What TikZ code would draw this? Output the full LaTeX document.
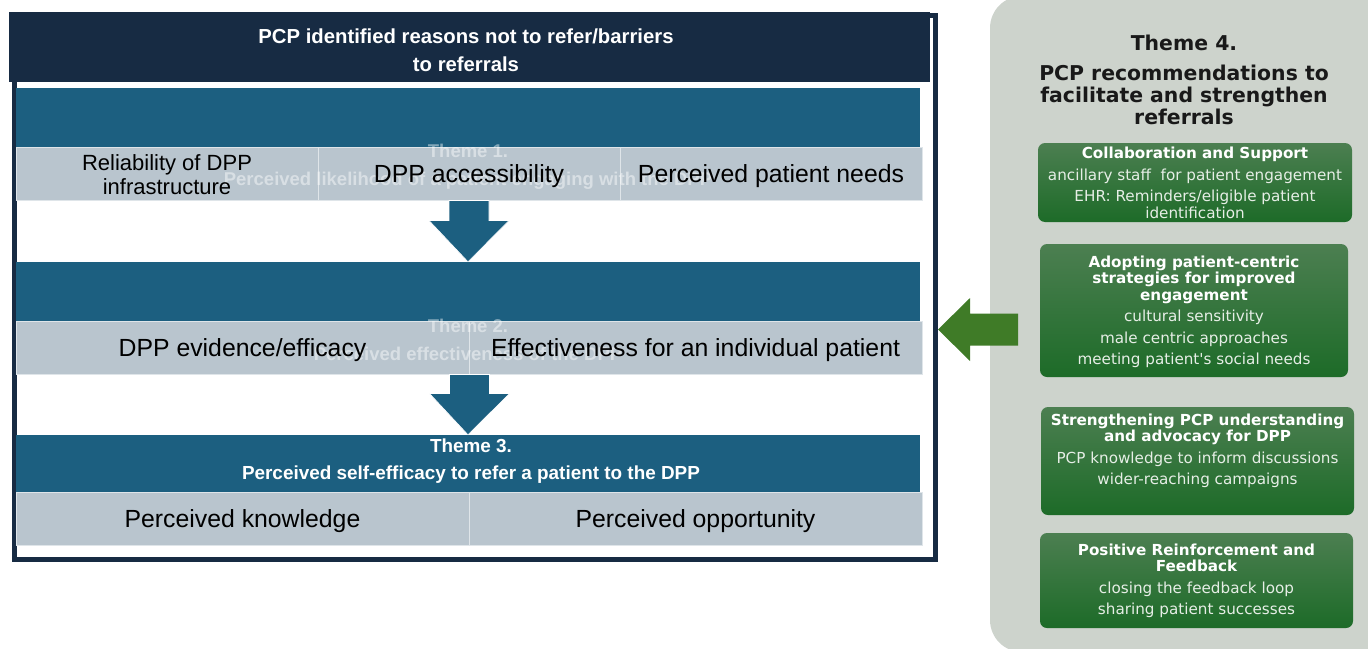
\documentclass[tikz,border=0pt]{standalone}
\usepackage{fontspec}
\setmainfont{Liberation Sans}
\newfontfamily\dejavu{DejaVu Sans}
\usetikzlibrary{positioning,calc}

\definecolor{navyframe}{HTML}{172B43}
\definecolor{themeteal}{HTML}{1C5F80}
\definecolor{cellgrey}{HTML}{B9C5CE}
\definecolor{panelgrey}{HTML}{CDD3CC}
\definecolor{arrowgreen}{HTML}{3F7B27}
\definecolor{boxtop}{HTML}{4C7F51}
\definecolor{boxbot}{HTML}{1D6B28}
\definecolor{boxtext}{HTML}{E6EEE6}

\begin{document}
\begin{tikzpicture}[x=1pt, y=-1pt,
  band/.style={fill=themeteal, inner sep=0pt, minimum width=904, minimum height=59},
  cell/.style={fill=cellgrey, draw=white!55!cellgrey, line width=1pt, inner sep=0pt, minimum height=53},
  celltxt/.style={font=\fontsize{24.8}{28}\selectfont, text=black, yshift=-2.5pt},
  ghost/.style={font=\bfseries\fontsize{18.5}{28}\selectfont, text=white, text opacity=0.45, align=center},
  blockarrow/.style={fill=themeteal, draw=white, line width=0.6pt},
  gbox/.style={rounded corners=7pt, top color=boxtop, bottom color=boxbot, inner sep=0pt},
  gtxt/.style={font=\dejavu\fontsize{15.2}{21.5}\selectfont, text=boxtext, align=center}
]
\useasboundingbox (0,0) rectangle (1368,648);

% outer frame and heading bar
\node[draw=navyframe, line width=5pt, fill=white, minimum width=920.5, minimum height=544, inner sep=0pt] (frame) at (474.75,287) {};
\node[fill=navyframe, minimum width=921, minimum height=70, inner sep=0pt] (head) at (469.5,47) {};
\node[font=\bfseries\fontsize{20.3}{28}\selectfont, text=white, align=center] (headtxt) at (466,50) {PCP identified reasons not to refer/barriers\\to referrals};

% theme 1
\node[band, minimum height=59] (band1) at (468,117.5) {};
\node[cell, minimum width=302] (c11) at (167,173.5) {};
\node[cell, minimum width=302] (c12) at (469,173.5) {};
\node[cell, minimum width=302] (c13) at (771,173.5) {};
\node[ghost] (t1) at (468,167) {Theme 1.\\Perceived likelihood of a patient engaging with the DPP};
\node[font=\fontsize{22}{24}\selectfont, align=center, yshift=-1pt] at (c11) {Reliability of DPP\\infrastructure};
\node[celltxt] at (c12) {DPP accessibility};
\node[celltxt] at (c13) {Perceived patient needs};

% theme 2
\node[band, minimum height=59] (band2) at (468,291.5) {};
\node[cell, minimum width=453] (c21) at (242.5,347.5) {};
\node[cell, minimum width=453] (c22) at (695.5,347.5) {};
\node[ghost] (t2) at (468,340) {Theme 2.\\Perceived effectiveness of the DPP};
\node[celltxt] at (c21) {DPP evidence/efficacy};
\node[celltxt] at (c22) {Effectiveness for an individual patient};

% theme 3
\node[band, minimum height=57] (band3) at (468,463.5) {};
\node[font=\bfseries\fontsize{18.9}{27}\selectfont, text=white, align=center] (t3) at (471,461.5) {Theme 3.\\Perceived self-efficacy to refer a patient to the DPP};
\node[cell, minimum width=453] (c31) at (242.5,518.5) {};
\node[cell, minimum width=453] (c32) at (695.5,518.5) {};
\node[celltxt] at (c31) {Perceived knowledge};
\node[celltxt] at (c32) {Perceived opportunity};

% arrows between themes
\fill[blockarrow] ($(c12.south)+(-20,0)$) -- ($(c12.south)+(20,0)$) -- ($(c12.south)+(20,20)$) -- ($(c12.south)+(40,20)$)
  -- (band2.north) -- ($(c12.south)+(-40,20)$) -- ($(c12.south)+(-20,20)$) -- cycle;
\fill[blockarrow] ($(c21.south east)+(-20,0)$) -- ($(c21.south east)+(20,0)$) -- ($(c21.south east)+(20,19)$) -- ($(c21.south east)+(40,19)$)
  -- (band3.north) -- ($(c21.south east)+(-40,19)$) -- ($(c21.south east)+(-20,19)$) -- cycle;

% theme 4 panel
\begin{scope}
\clip (0,0) rectangle (1368,648);
\fill[panelgrey, rounded corners=32pt] (990,-4) rectangle (1420,652);
\end{scope}
\node[font=\dejavu\bfseries\fontsize{20.4}{22}\selectfont, align=center, text=black!90] (t4) at (1184,80)
  {Theme 4.\\[8pt]PCP recommendations to\\facilitate and strengthen\\referrals};

\node[gbox, minimum width=314, minimum height=79] (gbox1) at (1195,182.5) {};
\node[gtxt] at (1195,183) {\textbf{\color{white}Collaboration and Support}\\ancillary staff\ \ for patient engagement\\EHR: Reminders/eligible patient\\[-5pt]identification};

\node[gbox, minimum width=308, minimum height=133] (gbox2) at (1194,310.5) {};
\node[gtxt] at (1194,312) {\textbf{\color{white}Adopting patient-centric}\\[-5pt]\textbf{\color{white}strategies for improved}\\[-5pt]\textbf{\color{white}engagement}\\cultural sensitivity\\male centric approaches\\meeting patient's social needs};

\node[gbox, minimum width=313, minimum height=108] (gbox3) at (1197.5,461) {};
\node[gtxt] at (1197.5,451) {\textbf{\color{white}Strengthening PCP understanding}\\[-5pt]\textbf{\color{white}and advocacy for DPP}\\PCP knowledge to inform discussions\\wider-reaching campaigns};

\node[gbox, minimum width=313, minimum height=95] (gbox4) at (1196.5,580.5) {};
\node[gtxt] at (1196.5,581) {\textbf{\color{white}Positive Reinforcement and}\\[-5pt]\textbf{\color{white}Feedback}\\closing the feedback loop\\sharing patient successes};

% arrow from recommendations back to the barriers
\fill[arrowgreen] (938,329.5) -- (970,298) -- (970,313.5) -- (1018,313.5) -- (1018,345.5) -- (970,345.5) -- (970,361) -- cycle;

\end{tikzpicture}
\end{document}
